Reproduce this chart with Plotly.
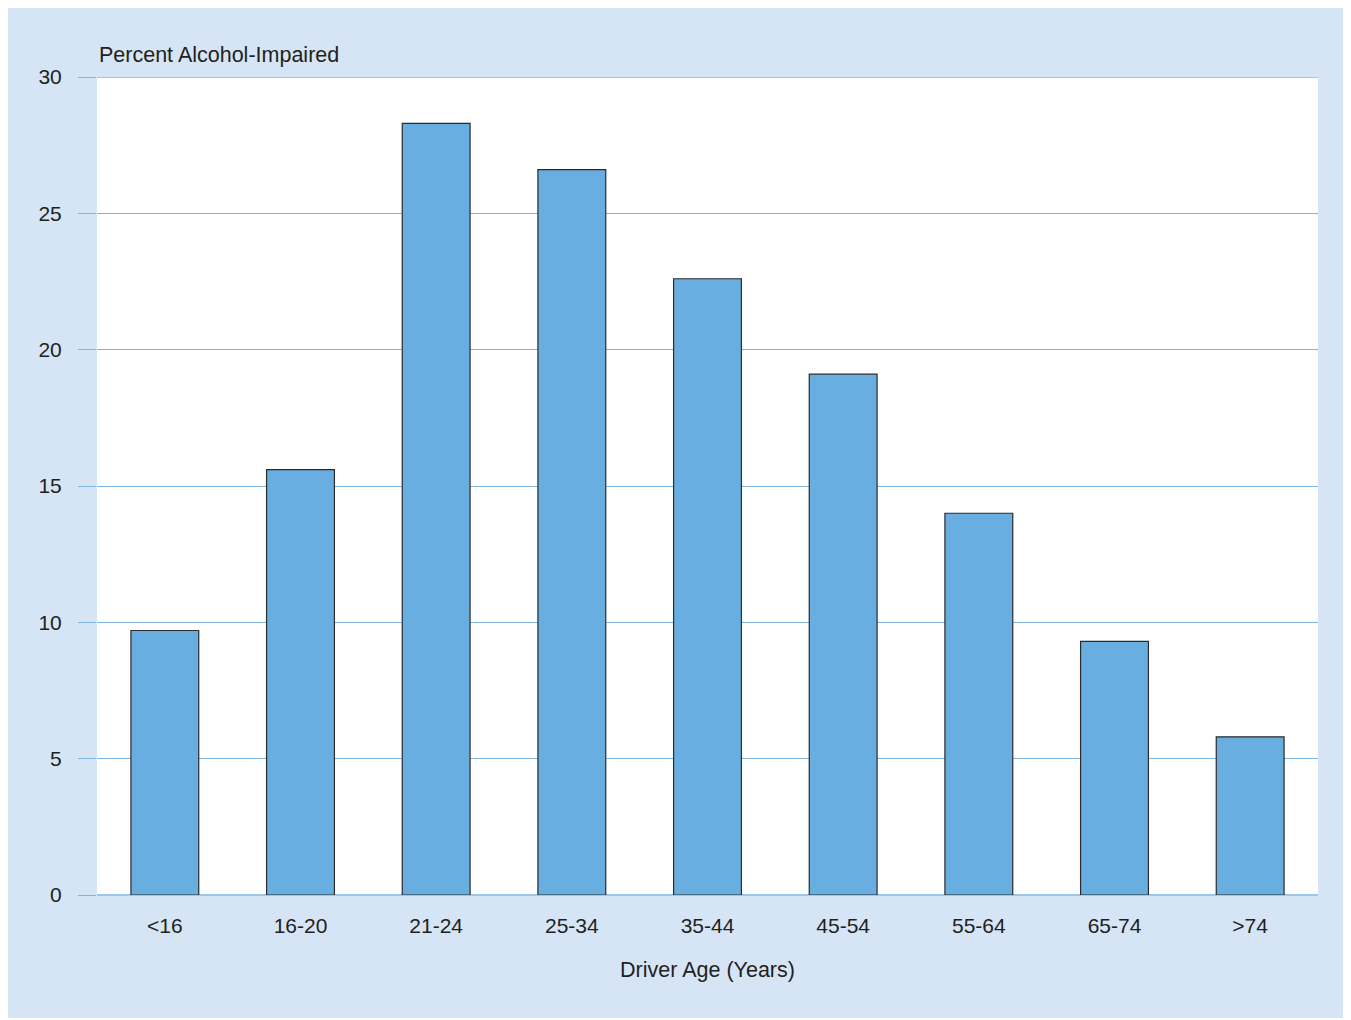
import plotly.graph_objects as go

categories = ["<16", "16-20", "21-24", "25-34", "35-44", "45-54", "55-64", "65-74", ">74"]
percent_impaired = [9.7, 15.6, 28.3, 26.6, 22.6, 19.1, 14.0, 9.3, 5.8]
y_ticks = [0, 5, 10, 15, 20, 25, 30]

PANEL = "#d6e5f5"
BAR = "#68aee0"
GRID = "#7db5e3"
TXT = "#231f20"
FONT = "Liberation Sans, Arial, sans-serif"

W, H = 1342, 1010
L, R, T, B = 89, 32, 69, 123
ph = H - T - B

fig = go.Figure(
    go.Bar(
        x=categories,
        y=percent_impaired,
        marker=dict(color=BAR, line=dict(color="#2b2b2b", width=1.2)),
        hoverinfo="x+y",
    )
)

# top boundary line at 30
fig.add_shape(
    type="line", xref="paper", yref="y", x0=0, x1=1, y0=30, y1=30,
    line=dict(color="#9cc6ea", width=2), layer="above",
)

fig.add_annotation(
    text="Percent Alcohol-Impaired", xref="paper", yref="paper",
    x=0, y=((H - B) - 47) / ph, xanchor="left", yanchor="middle",
    showarrow=False, font=dict(size=21.5, color=TXT, family=FONT),
)

fig.update_layout(
    width=W, height=H,
    margin=dict(l=L, r=R, t=T, b=B),
    paper_bgcolor=PANEL,
    plot_bgcolor="white",
    bargap=0.5,
    showlegend=False,
    font=dict(family=FONT, size=21, color=TXT),
)

fig.update_xaxes(
    type="category",
    showgrid=False, showline=False, zeroline=False,
    ticks="", tickfont=dict(size=21, color=TXT),
    ticklabelstandoff=16,
    title=dict(text="Driver Age (Years)", font=dict(size=21.5, color=TXT), standoff=25),
)
fig.update_yaxes(
    range=[0, 30], tickvals=y_ticks,
    showgrid=True, gridcolor=GRID, gridwidth=1,
    zeroline=True, zerolinecolor="#9cc6ea", zerolinewidth=2,
    showline=False,
    ticks="outside", ticklen=18, tickcolor=GRID, tickwidth=1,
    tickfont=dict(size=21, color=TXT),
    ticklabelstandoff=12,
)

fig.write_html("out.html")
